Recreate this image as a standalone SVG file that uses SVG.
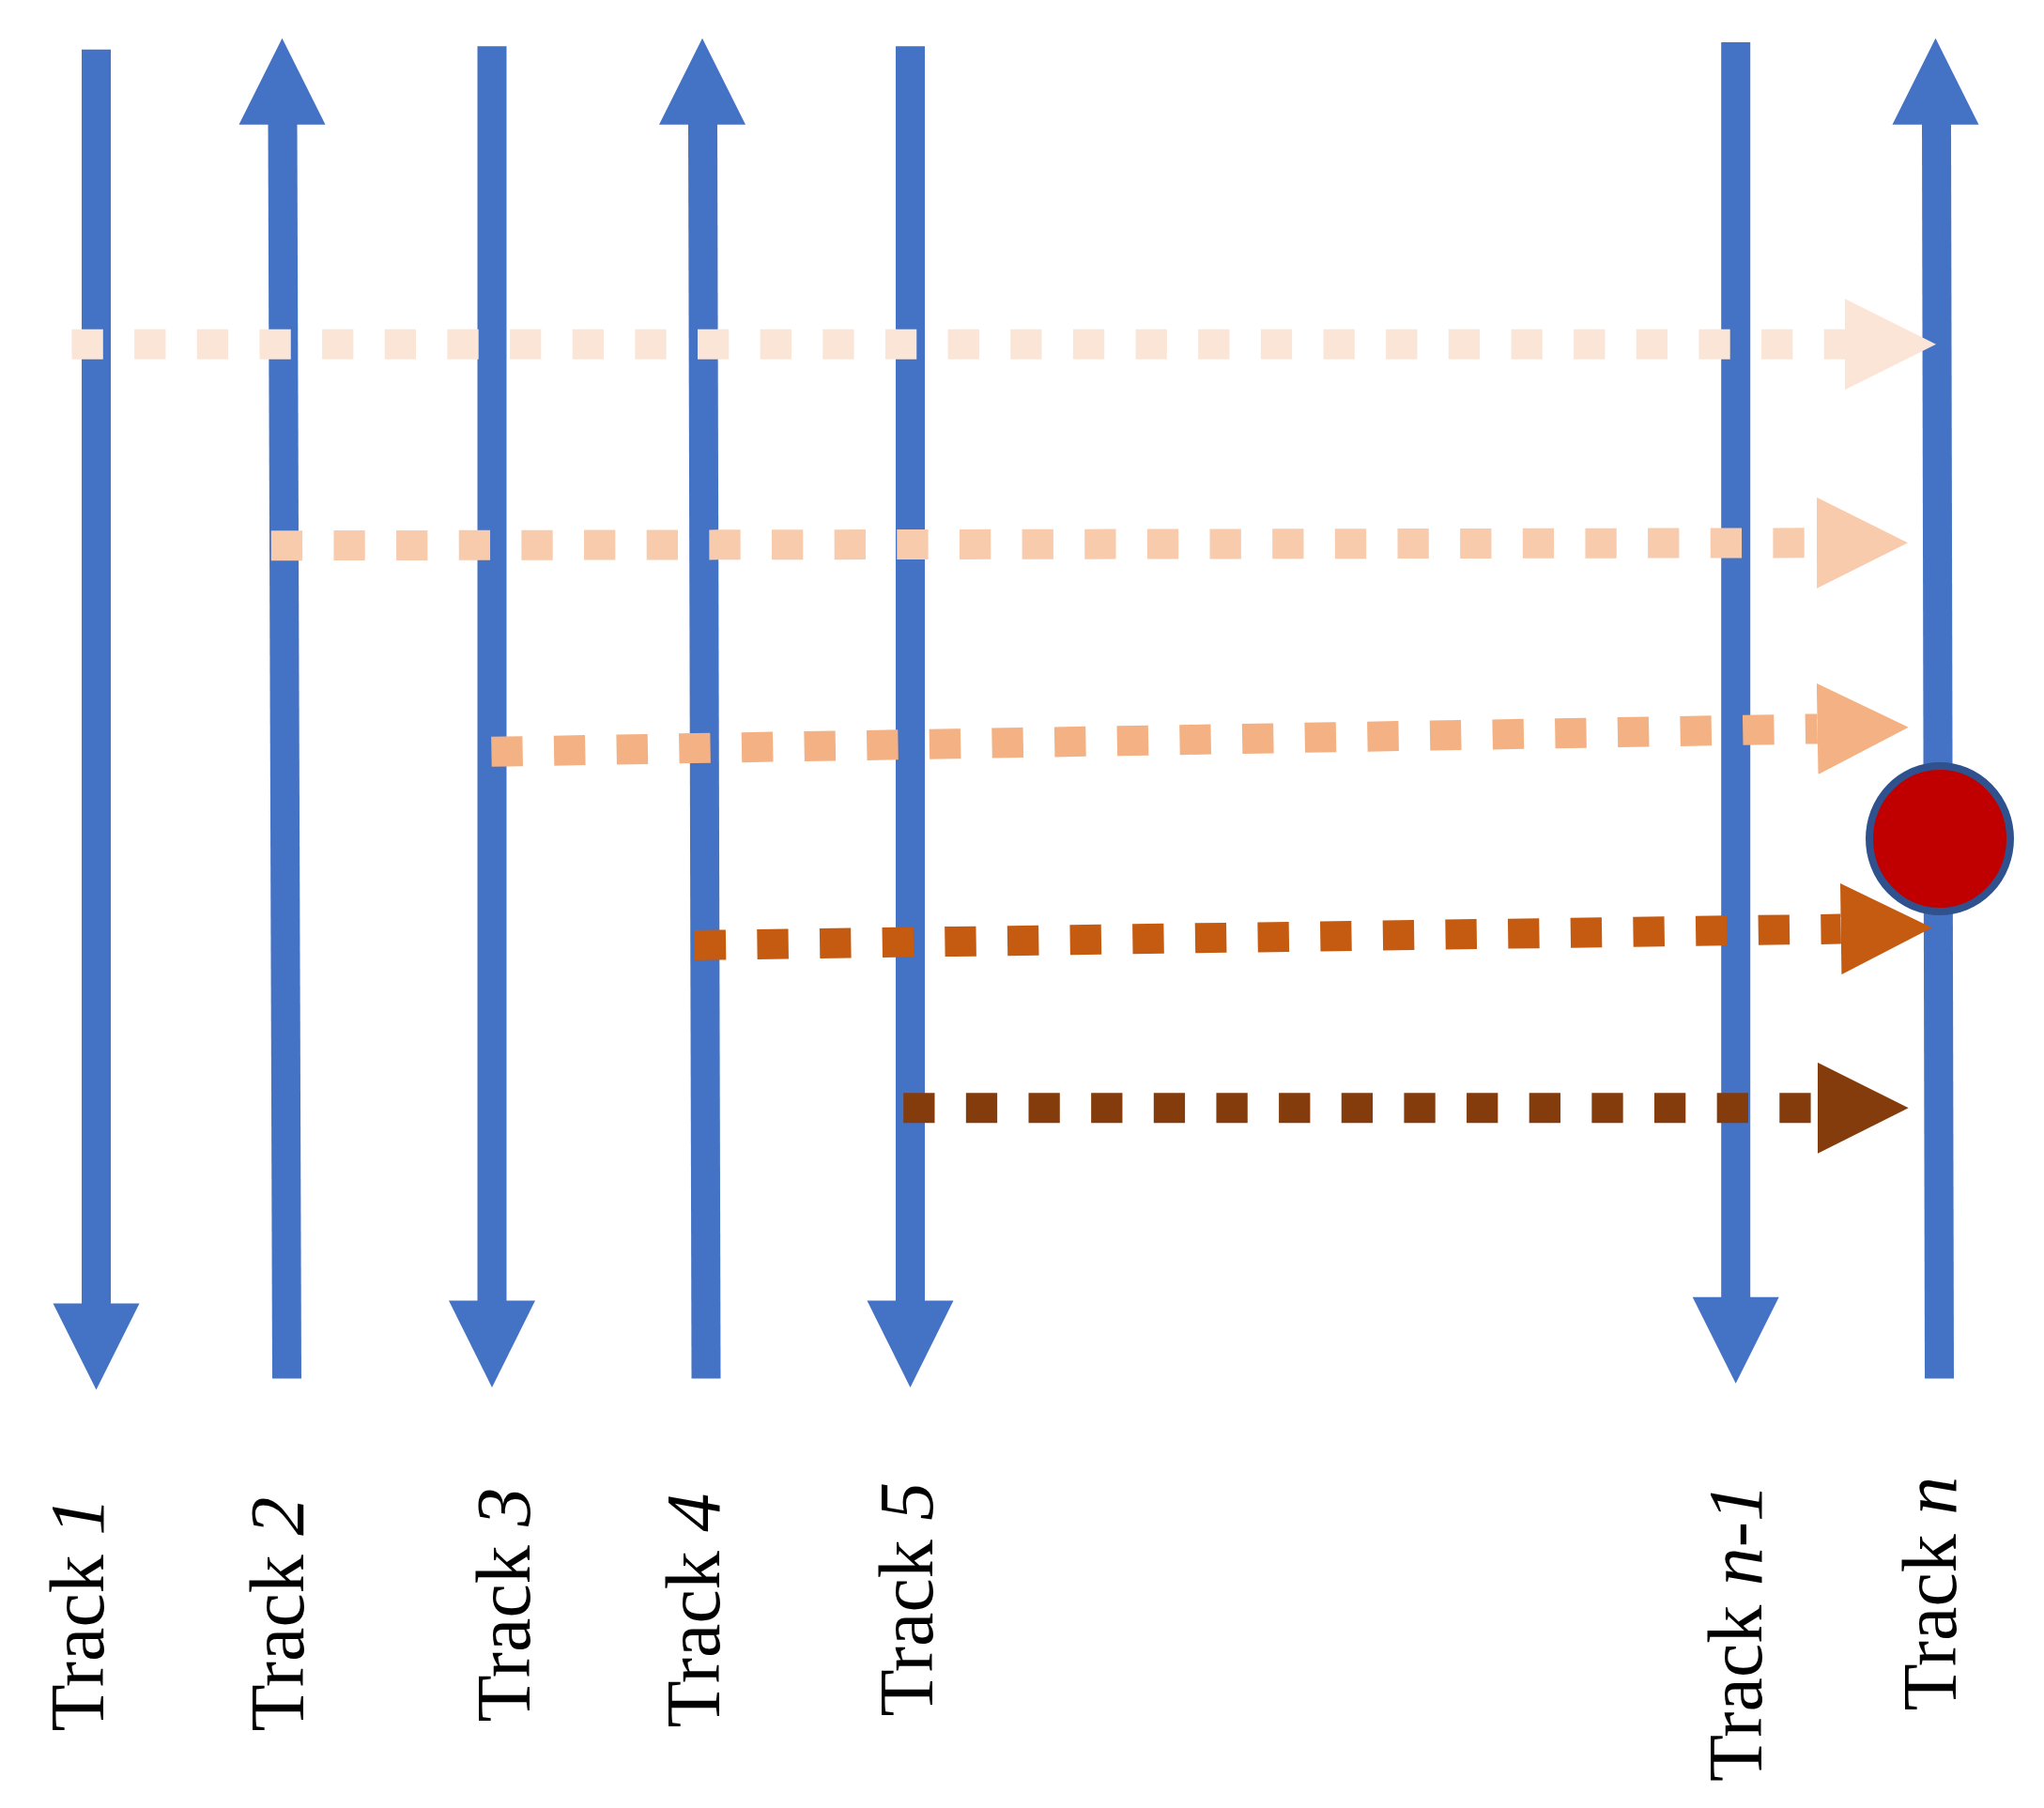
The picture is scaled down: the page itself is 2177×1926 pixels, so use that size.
<svg xmlns="http://www.w3.org/2000/svg" width="2177" height="1926" viewBox="0 0 2177 1926">
<defs>
<style>
.track{stroke:#4472C4;stroke-width:31;fill:none}
.head{fill:#4472C4}
.dot{fill:none;stroke-width:32;stroke-dasharray:33.3 33.35}
.lbl{font-family:"Liberation Serif","Times New Roman",serif;font-size:82px;fill:#000}
.it{font-style:italic}
</style>
<marker id="m1" markerUnits="userSpaceOnUse" viewBox="0 -48.5 97 97" refX="0" refY="0" markerWidth="97" markerHeight="97" orient="auto"><path d="M0,-48.5 L97,0 L0,48.5 z" fill="#FBE5D6"/></marker>
<marker id="m2" markerUnits="userSpaceOnUse" viewBox="0 -48.5 97 97" refX="0" refY="0" markerWidth="97" markerHeight="97" orient="auto"><path d="M0,-48.5 L97,0 L0,48.5 z" fill="#F8CBAD"/></marker>
<marker id="m3" markerUnits="userSpaceOnUse" viewBox="0 -48.5 97 97" refX="0" refY="0" markerWidth="97" markerHeight="97" orient="auto"><path d="M0,-48.5 L97,0 L0,48.5 z" fill="#F4B183"/></marker>
<marker id="m4" markerUnits="userSpaceOnUse" viewBox="0 -48.5 97 97" refX="0" refY="0" markerWidth="97" markerHeight="97" orient="auto"><path d="M0,-48.5 L97,0 L0,48.5 z" fill="#C55A11"/></marker>
<marker id="m5" markerUnits="userSpaceOnUse" viewBox="0 -48.5 97 97" refX="0" refY="0" markerWidth="97" markerHeight="97" orient="auto"><path d="M0,-48.5 L97,0 L0,48.5 z" fill="#843C0C"/></marker>
</defs>
<rect width="2177" height="1926" fill="#fff"/>
<g id="track1">
<line class="track" x1="102.5" y1="52.7" x2="102.5" y2="1390"/>
<polygon class="head" points="56.5,1388.6 148.5,1388.6 102.5,1480.4"/>
<text class="lbl" transform="translate(110,1844.5) rotate(-90)">Track <tspan class="it">1</tspan></text>
</g>
<g id="track2">
<line class="track" x1="305.5" y1="1468.5" x2="301" y2="131"/>
<polygon class="head" points="254.5,132.7 346.5,132.7 300.5,40.7"/>
<text class="lbl" transform="translate(323,1844.5) rotate(-90)">Track <tspan class="it">2</tspan></text>
</g>
<g id="track3">
<line class="track" x1="524" y1="49.3" x2="524" y2="1387"/>
<polygon class="head" points="478,1385.5 570,1385.5 524,1478"/>
<text class="lbl" transform="translate(564,1834.5) rotate(-90)">Track <tspan class="it">3</tspan></text>
</g>
<g id="track4">
<line class="track" x1="752" y1="1468.5" x2="748.5" y2="131"/>
<polygon class="head" points="702,132.7 794,132.7 748,40.7"/>
<text class="lbl" transform="translate(766,1840.5) rotate(-90)">Track <tspan class="it">4</tspan></text>
</g>
<g id="track5">
<line class="track" x1="969.5" y1="49.3" x2="969.5" y2="1387"/>
<polygon class="head" points="923.5,1385.5 1015.5,1385.5 969.5,1478"/>
<text class="lbl" transform="translate(993,1828.5) rotate(-90)">Track <tspan class="it">5</tspan></text>
</g>
<g id="trackn-1">
<line class="track" x1="1848.7" y1="45" x2="1848.7" y2="1383.5"/>
<polygon class="head" points="1802.7,1381.8 1894.7,1381.8 1848.7,1473.7"/>
<text class="lbl" transform="translate(1876,1898) rotate(-90)">Track <tspan class="it">n-1</tspan></text>
</g>
<g id="trackn">
<line class="track" x1="2065.5" y1="1468.5" x2="2062.5" y2="131"/>
<polygon class="head" points="2015.5,132.7 2107.5,132.7 2061.5,40.7"/>
<text class="lbl" transform="translate(2083,1822.5) rotate(-90)">Track <tspan class="it">n</tspan></text>
</g>
<g id="connectors">
<line class="dot" stroke="#FBE5D6" x1="76.5" y1="366.7" x2="1965" y2="366.7" marker-end="url(#m1)"/>
<line class="dot" stroke="#F8CBAD" x1="288.8" y1="581.2" x2="1935" y2="578.3" marker-end="url(#m2)"/>
<line class="dot" stroke="#F4B183" x1="523.4" y1="800.8" x2="1935.7" y2="776.4" marker-end="url(#m3)"/>
<line class="dot" stroke="#C55A11" x1="739.8" y1="1006.9" x2="1960.7" y2="989.6" marker-end="url(#m4)"/>
<line class="dot" stroke="#843C0C" x1="962.2" y1="1180.3" x2="1935.7" y2="1180.3" marker-end="url(#m5)"/>
</g>
<g id="event">
<ellipse cx="2066" cy="893.5" rx="75" ry="77.5" fill="#C00000" stroke="#2F528F" stroke-width="8"/>
</g>
</svg>
